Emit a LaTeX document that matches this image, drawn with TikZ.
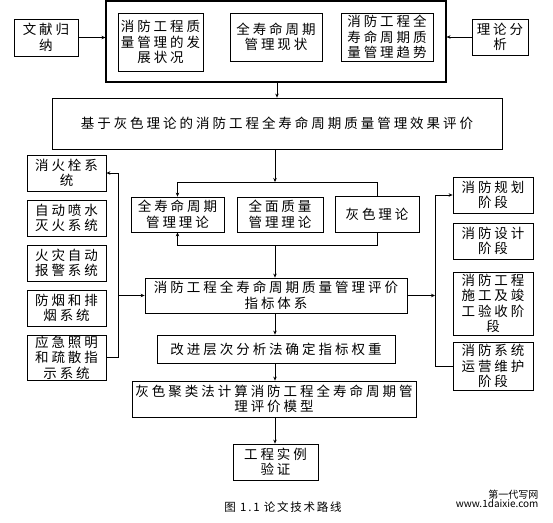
\documentclass[tikz,border=0pt]{standalone}
\usepackage{fontspec}
\newfontfamily\cjk[LetterSpace=22]{Noto Sans CJK SC}
\newfontfamily\cjkcap[LetterSpace=15]{Noto Sans CJK SC}
\newfontfamily\cjkplain{Noto Sans CJK SC}
\usetikzlibrary{arrows.meta,positioning,calc}

\begin{document}
\begin{tikzpicture}[x=1pt,y=-1pt,
  box/.style={draw,line width=0.8pt,align=center,inner sep=0pt,font=\cjk\fontsize{13.5}{15.5}\selectfont},
  outerbox/.style={draw,line width=1.1pt,inner sep=0pt},
  sysbox/.style={box,minimum width=79},
  stagebox/.style={box,minimum width=80},
  arr/.style={-{Stealth[length=4pt,width=3.5pt]},line width=0.8pt},
  conn/.style={line width=0.8pt}]
 \useasboundingbox (0,0) rectangle (553,522);

 % ---- research background ----
 \node[outerbox,minimum width=340,minimum height=81] (top) at (276,41.5) {};
 \node[box,minimum width=85,minimum height=58] (bg1) at (160.5,42) {消防工程质\\量管理的发\\展状况};
 \node[box,minimum width=92,minimum height=48] (bg2) at (276,37) {全寿命周期\\管理现状};
 \node[box,minimum width=92,minimum height=48] (bg3) at (387,37) {消防工程全\\寿命周期质\\量管理趋势};
 \node[box,minimum width=64,minimum height=37] (lit) at (46,37.5) {文献归\\纳};
 \node[box,minimum width=56,minimum height=36] (theo) at (500,37) {理论分\\析};
 \draw[arr] (lit.east) -- (lit.east -| top.west);
 \draw[arr] (theo.west) -- (theo.west -| top.east);

 % ---- topic ----
 \node[box,minimum width=450,minimum height=51] (main) at (277,123.5) {基于灰色理论的消防工程全寿命周期质量管理效果评价};
 \draw[arr] (top.south -| main.north) -- (main.north);

 % ---- theories ----
 \node[box,minimum width=93,minimum height=35] (thA) at (177.5,214.5) {全寿命周期\\管理理论};
 \node[box,minimum width=86,minimum height=35] (thB) at (280,214.5) {全面质量\\管理理论};
 \node[box,minimum width=84,minimum height=36] (thC) at (377,214) {灰色理论};
 \coordinate (jt) at (275,182);
 \coordinate (jb) at (275,245);
 \draw[arr] (main.south -| jt) -- (jt);
 \draw[arr] (jt) -| (thA.north);
 \draw[conn] (jt) -| (thC.north);
 \draw[arr] (jb) -| (thA.south);
 \draw[conn] (jb) -| (thC.south);

 % ---- index system ----
 \node[box,minimum width=262,minimum height=35] (idx) at (276,295.5) {消防工程全寿命周期质量管理评价\\指标体系};
 \draw[arr] (jb) -- (jb |- idx.north);

 % ---- fire systems (left) ----
 \node[sysbox,minimum height=36] (s1) at (66.5,173) {消火栓系\\统};
 \node[sysbox,minimum height=36] (s2) at (66.5,218) {自动喷水\\灭火系统};
 \node[sysbox,minimum height=36] (s3) at (66.5,263) {火灾自动\\报警系统};
 \node[sysbox,minimum height=36] (s4) at (66.5,308) {防烟和排\\烟系统};
 \node[sysbox,minimum height=45] (s5) at (66.5,357.5) {应急照明\\和疏散指\\示系统};
 \coordinate (jl) at (118,295.5);
 \draw[arr] (jl) |- (s1.east);
 \draw[conn] (jl) |- (s5.east);
 \draw[arr] (jl) -- (idx.west);

 % ---- life stages (right) ----
 \node[stagebox,minimum height=36] (p1) at (493,195) {消防规划\\阶段};
 \node[stagebox,minimum height=36] (p2) at (493,241) {消防设计\\阶段};
 \node[stagebox,minimum height=63] (p3) at (493,303.5) {消防工程\\施工及竣\\工验收阶\\段};
 \node[stagebox,minimum height=48] (p4) at (493,366) {消防系统\\运营维护\\阶段};
 \coordinate (jr) at (435,295.5);
 \draw[arr] (idx.east) -- (jr);
 \draw[arr] (jr) |- (p1.west);
 \draw[conn] (jr) |- (p4.west);

 % ---- weights, model, case ----
 \node[box,minimum width=238,minimum height=28] (ahp) at (276,349) {改进层次分析法确定指标权重};
 \node[box,minimum width=284,minimum height=36] (gray) at (274,399) {灰色聚类法计算消防工程全寿命周期管\\理评价模型};
 \node[box,minimum width=85,minimum height=36] (case) at (275.5,462) {工程实例\\验证};
 \draw[arr] (jb |- idx.south) -- (jb |- ahp.north);
 \draw[arr] (jb |- ahp.south) -- (jb |- gray.north);
 \draw[arr] (jb |- gray.south) -- (jb |- case.north);

 % ---- caption ----
 \node[font=\cjkcap\fontsize{11.5}{13}\selectfont] (cap) at (283,507) {图 1.1 论文技术路线};
 \node[font=\cjkplain\fontsize{10}{11}\selectfont,anchor=east,align=right] (wm) at (542,499) {第一代写网\\[-2pt]www.1daixie.com};
\end{tikzpicture}
\end{document}
